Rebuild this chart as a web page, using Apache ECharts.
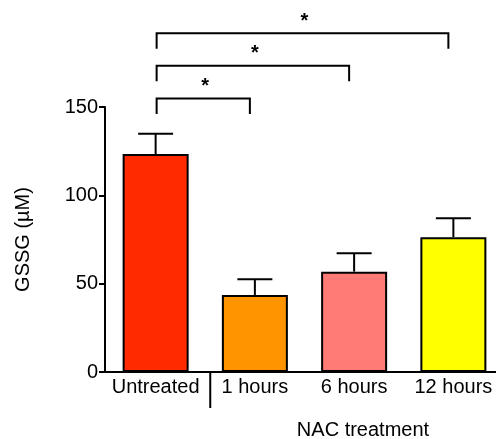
<!DOCTYPE html>
<html>
<head>
<meta charset="utf-8">
<script src="https://cdn.jsdelivr.net/npm/echarts@6/dist/echarts.min.js"></script>
<style>
  html, body { margin: 0; padding: 0; background: #fff; overflow: hidden; }
  /* the category axis runs on past the right edge of the page */
  #chart { width: 512px; height: 439px; }
</style>
</head>
<body>
<div id="chart"></div>
<script>
// GSSG concentration by NAC treatment time
const categories = ['Untreated', '1 hours', '6 hours', '12 hours'];
const gssgMean = [123.4, 43.6, 56.8, 76.3];
const gssgSem = [11.4, 8.9, 10.4, 10.7];
const barColors = ['#ff2a00', '#ff9400', '#ff7b76', '#ffff00'];
const yTicks = [0, 50, 100, 150];

// significance brackets: from index, to index, line level (µM)
const bracketFrom = [0, 0, 0];
const bracketTo = [1, 2, 3];
const bracketLevel = [154.8, 173.4, 191.8];
const bracketLabel = ['*', '*', '*'];

const FONT = '"Liberation Sans", Arial, sans-serif';
const chart = echarts.init(document.getElementById('chart'), null, { renderer: 'canvas' });

const errorData = categories.map((c, i) => [i, gssgMean[i], gssgMean[i] + gssgSem[i]]);
const bracketData = bracketFrom.map((f, i) => [f, bracketTo[i], bracketLevel[i]]);

chart.setOption({
  animation: false,
  grid: { left: 106, top: 107, width: 397, height: 265 },
  xAxis: {
    type: 'category',
    data: categories,
    axisLine: { lineStyle: { color: '#000', width: 2 } },
    axisTick: { show: false },
    axisLabel: { color: '#000', fontFamily: FONT, fontSize: 20, margin: 5, interval: 0 }
  },
  yAxis: {
    type: 'value',
    min: 0, max: 150, interval: 50,
    offset: 1,
    name: 'GSSG (\u00b5M)',
    nameLocation: 'middle',
    nameRotate: 90,
    nameGap: 72,
    nameTextStyle: { color: '#000', fontFamily: FONT, fontSize: 20 },
    splitLine: { show: false },
    axisLine: { show: true, lineStyle: { color: '#000', width: 2 } },
    axisTick: { show: true, length: 6, lineStyle: { color: '#000', width: 2 } },
    axisLabel: {
      color: '#000', fontFamily: FONT, fontSize: 20, margin: 7,
      formatter: v => (yTicks.indexOf(v) >= 0 ? String(v) : '')
    }
  },
  series: [
    {
      type: 'bar',
      barWidth: 66,
      data: gssgMean.map((v, i) => ({
        value: v,
        itemStyle: { color: barColors[i], borderColor: '#000', borderWidth: 2 }
      })),
      z: 2
    },
    {
      // upper error bars
      type: 'custom',
      data: errorData,
      z: 3,
      renderItem: (params, api) => {
        const base = api.coord([api.value(0), api.value(1)]);
        const top = api.coord([api.value(0), api.value(2)]);
        const half = 17.5;
        const style = { stroke: '#000', lineWidth: 2 };
        return {
          type: 'group',
          children: [
            { type: 'line', shape: { x1: base[0], y1: base[1], x2: top[0], y2: top[1] }, style },
            { type: 'line', shape: { x1: top[0] - half, y1: top[1], x2: top[0] + half, y2: top[1] }, style }
          ]
        };
      }
    },
    {
      // significance brackets with stars
      type: 'custom',
      data: bracketData,
      clip: false,
      z: 3,
      renderItem: (params, api) => {
        const a = api.coord([api.value(0), api.value(2)]);
        const b = api.coord([api.value(1), api.value(2)]);
        const drop = 15.5;
        const style = { stroke: '#000', lineWidth: 2, fill: null };
        return {
          type: 'group',
          children: [
            {
              type: 'polyline',
              shape: { points: [[a[0] + 1, a[1] + drop], [a[0] + 1, a[1]], [b[0] - 5, b[1]], [b[0] - 5, b[1] + drop]] },
              style
            },
            {
              type: 'text',
              style: {
                text: bracketLabel[params.dataIndex],
                x: (a[0] + b[0]) / 2, y: a[1] - 2,
                align: 'center', verticalAlign: 'bottom',
                font: 'bold 20px ' + FONT, fill: '#000'
              }
            }
          ]
        };
      }
    },
    {
      // divider between the control group and the NAC treatment groups
      type: 'custom',
      data: [[0.5]],
      clip: false,
      z: 3,
      renderItem: (params, api) => {
        const p = api.coord([0, 0]);
        const w = api.size([1, 0])[0];
        const x = p[0] + w / 2 + 5;
        return {
          type: 'line',
          shape: { x1: x, y1: p[1], x2: x, y2: p[1] + 36 },
          style: { stroke: '#000', lineWidth: 2 }
        };
      }
    }
  ],
  graphic: [
    {
      type: 'text',
      x: 363, y: 430,
      style: {
        text: 'NAC treatment',
        align: 'center', verticalAlign: 'middle',
        font: '20px ' + FONT, fill: '#000'
      }
    }
  ]
});
</script>
</body>
</html>
